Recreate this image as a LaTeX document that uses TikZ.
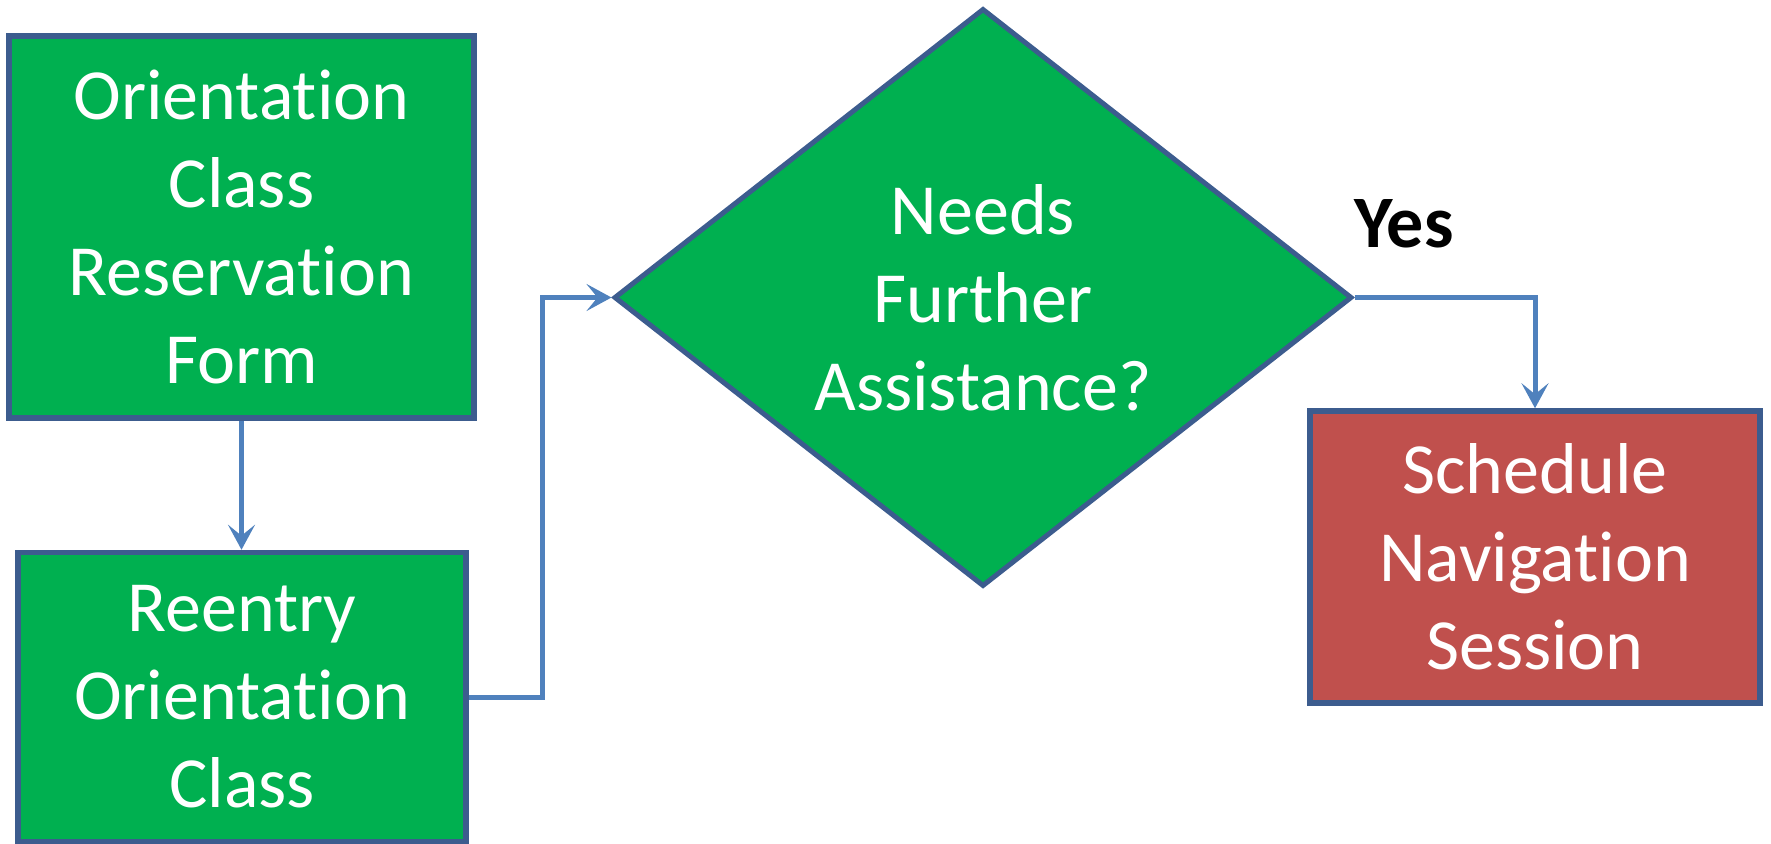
\documentclass[tikz,border=0pt]{standalone}
\usepackage{fontspec}
\setmainfont{Carlito}[Ligatures={NoCommon}]
\usetikzlibrary{shapes.geometric,arrows.meta}
\definecolor{boxgreen}{HTML}{00B050}
\definecolor{boxred}{HTML}{C0504D}
\definecolor{edgeblue}{HTML}{3C5C8E}
\definecolor{linkblue}{HTML}{4F81BD}
\tikzset{
  stepbox/.style={draw=edgeblue, line width=5.5pt, rectangle, inner sep=0pt, align=center, text=white,
    font=\fontsize{72}{88}\selectfont},
  decision/.style={draw=edgeblue, line width=5pt, diamond, aspect=1.277, inner sep=0pt, align=center,
    text=white, fill=boxgreen, font=\fontsize{72}{88}\selectfont},
  conn/.style={draw=linkblue, line width=5pt, -{Stealth[length=25pt,width=27pt,inset=11pt]}},
}
\begin{document}
\begin{tikzpicture}[x=1pt,y=-1pt]
\useasboundingbox (0,0) rectangle (1771,843);
\node[stepbox, fill=boxgreen, minimum width=465pt, minimum height=382pt] (b1) at (241.5,227)
  {Orientation\\Class\\Reservation\\Form};
\node[stepbox, fill=boxgreen, minimum width=448pt, minimum height=289pt] (b2) at (242,697)
  {Reentry\\Orientation\\Class};
\node[decision, minimum width=738pt, minimum height=578pt] (d) at (983,297.5)
  {Needs\\Further\\Assistance?};
\node[stepbox, fill=boxred, minimum width=450pt, minimum height=292pt] (r) at (1535,557)
  {Schedule\\Navigation\\Session};
\node[font=\fontsize{74}{80}\selectfont\bfseries, inner sep=0pt] (yes) at (1404,224) {Yes};
\coordinate (j) at (542,0);
\draw[conn] (b1.south) -- (b1.south |- b2.north);
\draw[conn] (b2.east) -- (b2.east -| j) -- (j |- d.west) -- (d.west);
\draw[conn] (d.east) -| (r.north);
\end{tikzpicture}
\end{document}
